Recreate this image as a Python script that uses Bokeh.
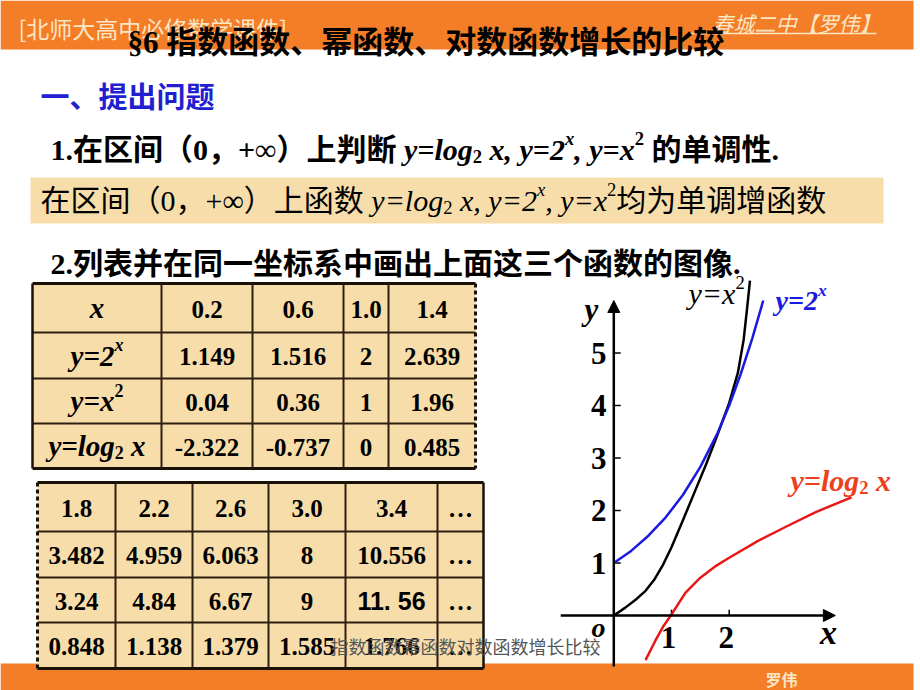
from bokeh.plotting import figure
from bokeh.models import Range1d, Arrow, NormalHead
from bokeh.core.properties import value
from bokeh.embed import file_html
from bokeh.resources import INLINE

# ---------------- data ----------------
table_x = ["0.2", "0.6", "1.0", "1.4", "1.8", "2.2", "2.6", "3.0", "3.4", "…"]
table_exp = ["1.149", "1.516", "2", "2.639", "3.482", "4.959", "6.063", "8", "10.556", "…"]
table_sq = ["0.04", "0.36", "1", "1.96", "3.24", "4.84", "6.67", "9", "11. 56", "…"]
table_log = ["-2.322", "-0.737", "0", "0.485", "0.848", "1.138", "1.379", "1.585", "1.766", "…"]

# curves as drawn in the picture (x, y)
exp_x = [0.0, 0.3, 0.6, 0.9, 1.2, 1.5, 1.8, 2.0, 2.2, 2.4, 2.59]
exp_y = [1.0, 1.23, 1.52, 1.87, 2.3, 2.83, 3.48, 4.0, 4.6, 5.28, 6.0]
sq_x = [0.0, 0.2, 0.4, 0.55, 0.7, 0.85, 1.0, 1.2, 1.4, 1.6, 1.8, 2.0, 2.15, 2.25, 2.31, 2.36]
sq_y = [0.0, 0.15, 0.32, 0.47, 0.68, 0.96, 1.3, 1.82, 2.35, 2.88, 3.45, 4.05, 4.62, 5.25, 5.85, 6.38]
log_x = [0.55, 0.72, 0.85, 1.0, 1.24, 1.5, 1.75, 2.0, 2.5, 3.0, 3.5, 4.12]
log_y = [-0.85, -0.48, -0.22, 0.02, 0.43, 0.72, 0.93, 1.1, 1.42, 1.7, 1.97, 2.25]
y_ticks = [1, 2, 3, 4, 5]
x_ticks = [1, 2]

# ---------------- styles ----------------
SERIF = "Liberation Serif, Noto Sans CJK SC"
CJK = "Noto Sans CJK SC"
ORANGE = "#F47D27"
CREAM = "#FBE6C4"
CELL = "#F7DDAA"
LINE = "#2e2010"
BLUE = "#1A1AE0"
RED = "#E81818"

p = figure(width=920, height=690, x_range=Range1d(0, 920), y_range=Range1d(690, 0),
           output_backend="svg", toolbar_location=None,
           x_axis_location=None, y_axis_location=None, min_border=0,
           background_fill_color="#FFFFFF", border_fill_color="#FFFFFF",
           outline_line_color=None)
p.grid.visible = False
# graph coordinate system (origin at pixel 613.3, 615; 57.7 px per x unit, 52.5 px per y unit)
p.extra_x_ranges = {"gx": Range1d(-613.3 / 57.7, (920 - 613.3) / 57.7)}
p.extra_y_ranges = {"gy": Range1d((615 - 690) / 52.5, 615 / 52.5)}

TW = {
    "normal": {" ": .25, ",": .25, ".": .25, "+": .564, "=": .564, "∞": .713, "y": .5, "x": .5,
               "l": .278, "o": .5, "g": .5, "-": .333, "§": .5},
    "bold": {" ": .25, ",": .25, ".": .25, "+": .57, "=": .57, "∞": .713, "y": .5, "x": .5,
             "l": .278, "o": .5, "g": .5, "-": .333, "§": .5},
    "italic": {" ": .25, ",": .25, "y": .444, "x": .444, "=": .675, "l": .278, "o": .5, "g": .5},
    "bold italic": {" ": .25, ",": .25, "y": .444, "x": .5, "=": .57, "l": .278, "o": .5, "g": .5},
}


def cw(ch, style):
    o = ord(ch)
    if o >= 0x2E80 or 0xFF00 <= o <= 0xFFEF or ch in "、":
        return 1.0
    return TW[style].get(ch, 0.5)


def run_size(kind, size):
    return size * 0.62 if kind in ("sup", "sub") else size


def runs_width(parts, size):
    return sum(sum(cw(c, st) for c in t) * run_size(k, size) for t, k, st in parts)


def draw_runs(x, y, parts, size, color="black", font=SERIF):
    """y is the vertical middle of the main-size text."""
    cx = x
    for t, kind, style in parts:
        s = run_size(kind, size)
        dy = -0.36 * size if kind == "sup" else (0.24 * size if kind == "sub" else 0)
        lead = len(t) - len(t.lstrip(" "))
        txt = t.strip(" ")
        if txt:
            p.text(x=[cx + lead * cw(" ", style) * s], y=[y + dy], text=[txt], text_font=value(font),
                   text_font_size=f"{s:.1f}px", text_font_style=style, text_color=color,
                   text_baseline="middle", text_align="left")
        cx += sum(cw(c, style) for c in t) * s


# ---------------- header & footer bars ----------------
p.quad(left=[0], right=[913], top=[0], bottom=[49], fill_color=ORANGE, line_color=None)
p.quad(left=[0], right=[913], top=[663], bottom=[690], fill_color=ORANGE, line_color=None)
p.text(x=[18], y=[27], text=["[北师大高中必修数学课件]"], text_font=value(CJK),
       text_font_size="23px", text_color=CREAM, text_baseline="middle")
p.segment(x0=[690], y0=[33], x1=[876], y1=[33], line_color=CREAM, line_width=1.5)
p.text(x=[712], y=[22], text=["春城二中【罗伟】"], text_font=value(CJK),
       text_font_size="21px", text_font_style="italic", text_color=CREAM,
       text_baseline="middle")
p.text(x=[765], y=[678], text=["罗伟"], text_font=value(CJK), text_font_size="16px",
       text_font_style="bold", text_color=CREAM, text_baseline="middle")

# ---------------- title & text lines ----------------
draw_runs(127, 42, [("§6 指数函数、幂函数、对数函数增长的比较", "n", "bold")], 31)
draw_runs(40, 97, [("一、提出问题", "n", "bold")], 29, color="#2020D0")
draw_runs(50, 149, [("1.在区间（0，+∞）上判断 ", "n", "bold"), ("y=log", "n", "bold italic"),
                    ("2", "sub", "bold"), (" x, y=2", "n", "bold italic"), ("x", "sup", "bold italic"),
                    (", y=x", "n", "bold italic"), ("2", "sup", "bold"), (" 的单调性.", "n", "bold")], 30)
p.quad(left=[30], right=[883], top=[177], bottom=[223], fill_color=CELL, line_color=None)
draw_runs(40, 200, [("在区间（0，+∞）上函数 ", "n", "normal"), ("y=log", "n", "italic"),
                    ("2", "sub", "normal"), (" x, y=2", "n", "italic"), ("x", "sup", "italic"),
                    (", y=x", "n", "italic"), ("2", "sup", "normal"), ("均为单调增函数", "n", "normal")], 30)
draw_runs(50, 263, [("2.列表并在同一坐标系中画出上面这三个函数的图像.", "n", "bold")], 30)

# ---------------- tables ----------------
row_labels = [
    [("x", "n", "bold italic")],
    [("y=2", "n", "bold italic"), ("x", "sup", "bold italic")],
    [("y=x", "n", "bold italic"), ("2", "sup", "bold")],
    [("y=log", "n", "bold italic"), ("2", "sub", "bold"), (" x", "n", "bold italic")],
]
rows_data = [table_x, table_exp, table_sq, table_log]


def draw_table(cols, rows, first, last, with_labels, dash_left, dash_right):
    p.quad(left=[cols[0]], right=[cols[-1]], top=[rows[0]], bottom=[rows[-1]],
           fill_color=CELL, line_color=None)
    xs = cols[1:-1]
    p.segment(x0=xs, y0=[rows[0]] * len(xs), x1=xs, y1=[rows[-1]] * len(xs),
              line_color=LINE, line_width=2)
    ys = rows[1:-1]
    p.segment(x0=[cols[0]] * len(ys), y0=ys, x1=[cols[-1]] * len(ys), y1=ys,
              line_color=LINE, line_width=2)
    p.segment(x0=[cols[0]] * 2, y0=[rows[0], rows[-1]], x1=[cols[-1]] * 2,
              y1=[rows[0], rows[-1]], line_color="#1a1206", line_width=3)
    for xx, dashed in ((cols[0], dash_left), (cols[-1], dash_right)):
        p.segment(x0=[xx], y0=[rows[0]], x1=[xx], y1=[rows[-1]], line_color="#1a1206",
                  line_width=3 if dashed else 2.5, line_dash="4 3" if dashed else "solid")
    start = 0
    if with_labels:
        for r, parts in enumerate(row_labels):
            cx = (cols[0] + cols[1]) / 2
            cy = (rows[r] + rows[r + 1]) / 2
            w = runs_width(parts, 29)
            draw_runs(cx - w / 2, cy, parts, 29)
        start = 1
    for r, vals in enumerate(rows_data):
        for i, v in enumerate(vals[first:last]):
            c = start + i
            cx = (cols[c] + cols[c + 1]) / 2
            cy = (rows[r] + rows[r + 1]) / 2
            font = "Liberation Sans" if " " in v else "Liberation Serif"
            p.text(x=[cx], y=[cy + 1], text=[v], text_font=value(font), text_font_size="25px",
                   text_font_style="bold", text_color="black", text_align="center",
                   text_baseline="middle")


draw_table([32, 161, 252, 343, 388, 475], [283, 332, 378, 423, 468], 0, 4, True, False, True)
draw_table([37, 115, 192, 268, 345, 437, 483], [482, 531, 577, 622, 668], 4, 10, False, True, False)

p.text(x=[330], y=[645], text=["指数函数幂函数对数函数增长比较"], text_font=value(CJK),
       text_font_size="18px", text_color="#555555", text_baseline="middle")

# ---------------- graph ----------------
G = dict(x_range_name="gx", y_range_name="gy")
p.add_layout(Arrow(end=NormalHead(size=12, fill_color="black", line_color="black"),
                   x_start=0, y_start=-0.97, x_end=0, y_end=6.0, line_width=2.5, **G))
p.add_layout(Arrow(end=NormalHead(size=12, fill_color="black", line_color="black"),
                   x_start=-0.92, y_start=0, x_end=3.84, y_end=0, line_width=2.5, **G))
p.segment(x0=[0] * len(y_ticks), y0=y_ticks, x1=[0.12] * len(y_ticks), y1=y_ticks,
          line_color="black", line_width=1.5, **G)
p.segment(x0=x_ticks, y0=[0] * len(x_ticks), x1=x_ticks, y1=[0.11] * len(x_ticks),
          line_color="black", line_width=1.5, **G)
p.text(x=[-0.26] * len(y_ticks), y=y_ticks, text=[str(t) for t in y_ticks],
       text_font=value("Liberation Serif"), text_font_size="31px", text_font_style="bold",
       text_align="center", text_baseline="middle", **G)
p.text(x=[t - 0.05 for t in x_ticks], y=[-0.42] * len(x_ticks), text=[str(t) for t in x_ticks],
       text_font=value("Liberation Serif"), text_font_size="31px", text_font_style="bold",
       text_align="center", text_baseline="middle", **G)

p.line(sq_x, sq_y, line_color="black", line_width=2.5, **G)
p.line(exp_x, exp_y, line_color=BLUE, line_width=2.5, **G)
p.line(log_x, log_y, line_color=RED, line_width=2.5, **G)

p.text(x=[598], y=[627], text=["o"], text_font=value("Liberation Serif"), text_font_size="28px",
       text_font_style="bold italic", text_align="center", text_baseline="middle")
p.text(x=[828], y=[632], text=["x"], text_font=value("Liberation Serif"), text_font_size="34px",
       text_font_style="bold italic", text_align="center", text_baseline="middle")
p.text(x=[591], y=[309], text=["y"], text_font=value("Liberation Serif"), text_font_size="31px",
       text_font_style="bold italic", text_align="center", text_baseline="middle")
draw_runs(688, 293, [("y=x", "n", "italic"), ("2", "sup", "normal")], 30)
draw_runs(775, 300, [("y=2", "n", "bold italic"), ("x", "sup", "bold italic")], 28, color=BLUE)
draw_runs(790, 480, [("y=log", "n", "bold italic"), ("2", "sub", "bold"), (" x", "n", "bold italic")],
          30, color="#EE3F1C")

open("out.html", "w").write(file_html(p, INLINE))
